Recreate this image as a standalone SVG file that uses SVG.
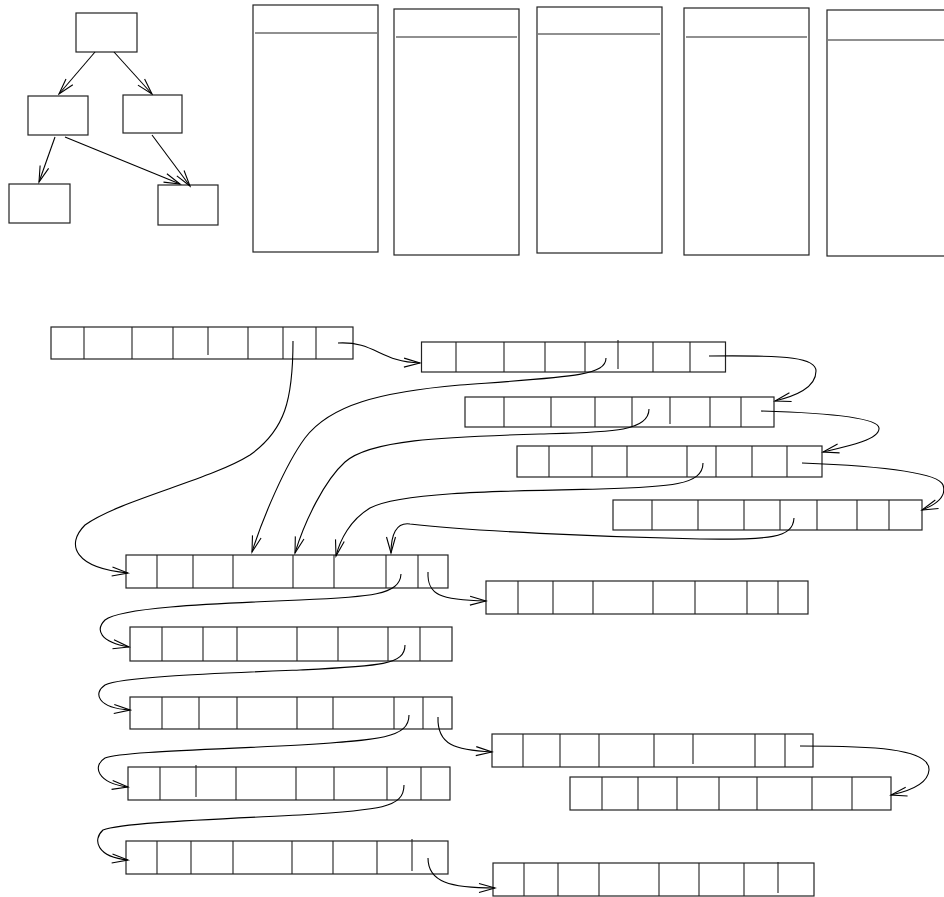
<svg xmlns="http://www.w3.org/2000/svg" width="944" height="897" viewBox="0 0 944 897">
<style>
rect{fill:#fff;stroke:#222;stroke-width:1.2}
.d{fill:none;stroke:#222;stroke-width:1.1}
.c{fill:none;stroke:#000;stroke-width:1.1;marker-end:url(#a)}
</style>
<defs>
<marker id="a" viewBox="-18 -6 20 12" refX="0" refY="0" markerWidth="20" markerHeight="12" orient="auto" markerUnits="userSpaceOnUse"><path d="M-16,-4.5 L0,0 L-16,4.5" fill="none" stroke="#000" stroke-width="1.1"/></marker>
</defs>
<g id="tree">
<g id="t1"><rect x="76" y="13" width="61" height="39"/></g>
<g id="t2"><rect x="28" y="96" width="60" height="39"/></g>
<g id="t3"><rect x="123" y="95" width="59" height="38"/></g>
<g id="t4"><rect x="9" y="184" width="61" height="39"/></g>
<g id="t5"><rect x="158" y="185" width="60" height="40"/></g>
</g>
<g id="frames">
<g id="f1"><rect x="253" y="5" width="125" height="247"/><path class="d" d="M255,33H377"/></g>
<g id="f2"><rect x="394" y="9" width="125" height="246"/><path class="d" d="M396,37H517"/></g>
<g id="f3"><rect x="537" y="7" width="125" height="246"/><path class="d" d="M538,34H660"/></g>
<g id="f4"><rect x="684" y="8" width="125" height="247"/><path class="d" d="M686,37H807"/></g>
<g id="f5"><rect x="827" y="10" width="130" height="246"/><path class="d" d="M828,40H944"/></g>
</g>
<g id="arrays">
<g id="rA"><rect x="51" y="327" width="302" height="32"/><path class="d" d="M84,327V359M132,327V359M173,327V359M208,327V355M248,327V359M283,327V359M316,327V359"/></g>
<g id="rB"><rect x="421.5" y="342" width="304" height="30"/><path class="d" d="M456,342V372M504,342V372M545,342V372M585,342V372M618,340V369M653,342V372M690,342V372"/></g>
<g id="rC"><rect x="465" y="397" width="309" height="30"/><path class="d" d="M504,397V427M551,397V427M595,397V427M632,397V427M670,397V424M710,397V427M741,397V427"/></g>
<g id="rD"><rect x="517" y="446" width="305" height="31"/><path class="d" d="M549,446V477M592,446V477M627,446V477M687,446V477M716,446V477M752,446V477M787,446V477"/></g>
<g id="rE"><rect x="613" y="500" width="309" height="30"/><path class="d" d="M652,500V530M698,500V530M744,500V530M780,500V530M817,500V530M857,500V530M889,500V530"/></g>
<g id="rF"><rect x="126" y="555" width="322" height="33"/><path class="d" d="M157,555V588M193,555V588M233,555V588M293,555V588M334,555V588M386,555V588M418,555V588"/></g>
<g id="rF2"><rect x="486" y="581" width="322" height="33"/><path class="d" d="M518,581V614M553,581V614M593,581V614M653,581V614M695,581V614M747,581V614M778,581V614"/></g>
<g id="rG"><rect x="130" y="627" width="322" height="34"/><path class="d" d="M162,627V661M203,627V661M237,627V661M297,627V661M338,627V661M388,627V661M420,627V661"/></g>
<g id="rH"><rect x="130" y="697" width="322" height="32"/><path class="d" d="M162,697V729M199,697V729M237,697V729M297,697V729M333,697V729M394,697V729M423,697V729"/></g>
<g id="rH2"><rect x="492" y="734" width="321" height="33"/><path class="d" d="M523,734V767M560,734V767M599,734V767M654,734V767M693,734V764M755,734V767M785,734V767"/></g>
<g id="rH3"><rect x="570" y="777" width="321" height="33"/><path class="d" d="M602,777V810M638,777V810M677,777V810M719,777V810M757,777V810M812,777V810M852,777V810"/></g>
<g id="rI"><rect x="128" y="767" width="322" height="33"/><path class="d" d="M160,767V800M196,765V797M236,767V800M296,767V800M334,767V800M387,767V800M421,767V800"/></g>
<g id="rJ"><rect x="126" y="841" width="322" height="33"/><path class="d" d="M157,841V874M191,841V874M233,841V874M292,841V874M333,841V874M377,841V874M412,839V871"/></g>
<g id="rJ2"><rect x="493" y="863" width="321" height="33"/><path class="d" d="M524,863V896M558,863V896M599,863V896M659,863V896M699,863V896M744,863V896M778,862V893"/></g>
</g>
<g id="connectors">
<path class="c" d="M95,52L59,94"/>
<path class="c" d="M114,52L152,94"/>
<path class="c" d="M55,137L39,182"/>
<path class="c" d="M65,137L180,184"/>
<path class="c" d="M152,135L190,186"/>
<path class="c" d="M338,343C375,341 380,362 420,363"/>
<path class="c" d="M293,341C293,400 285,430 250,455C210,480 120,500 85,525C65,545 75,568 128,573"/>
<path class="c" d="M606,358C606,376 570,377 460,385C380,392 330,405 305,438C285,465 262,520 252,552"/>
<path class="c" d="M649,409C649,432 610,432 540,434C440,437 370,440 345,462C325,480 305,520 295,553"/>
<path class="c" d="M703,463C703,485 670,487 600,489C500,491 400,492 370,508C350,520 340,540 336,556"/>
<path class="c" d="M794,518C793,538 770,540 700,539C600,537 470,531 410,524C396,522 391,535 391,553"/>
<path class="c" d="M709,356C790,355 816,358 816,371C816,388 795,396 775,401"/>
<path class="c" d="M761,411C830,413 878,418 879,428C880,440 845,447 823,452"/>
<path class="c" d="M802,463C880,466 938,472 943,485C947,497 935,505 922,510"/>
<path class="c" d="M401,574C400,595 370,597 300,600C200,604 120,608 105,620C95,630 100,642 129,647"/>
<path class="c" d="M428,572C427,595 440,600 486,601"/>
<path class="c" d="M405,645C405,665 380,666 300,670C200,674 120,677 105,685C93,693 97,708 130,710"/>
<path class="c" d="M409,715C409,738 380,740 300,745C200,750 120,752 105,758C92,766 97,783 128,787"/>
<path class="c" d="M438,717C437,745 455,750 492,752"/>
<path class="c" d="M800,746C870,746 930,748 929,770C928,785 905,792 891,795"/>
<path class="c" d="M404,785C404,808 380,810 300,815C200,820 120,823 103,830C92,840 97,857 128,860"/>
<path class="c" d="M428,858C428,882 450,888 495,888"/>
</g>
</svg>
